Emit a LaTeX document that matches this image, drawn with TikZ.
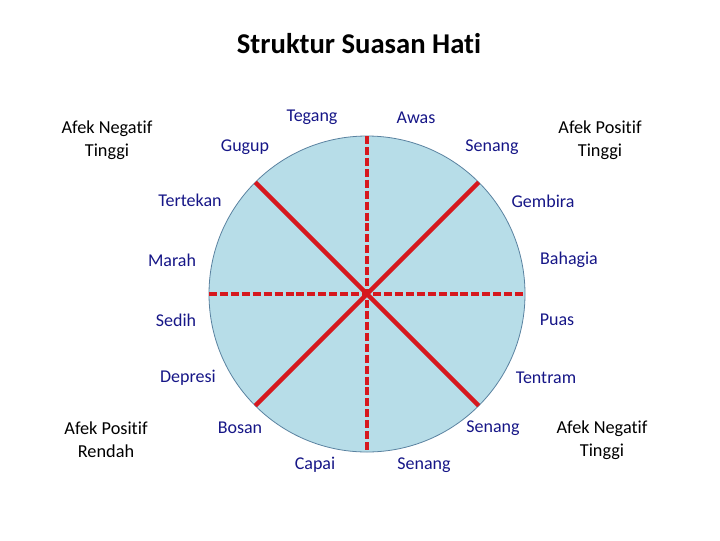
\documentclass[tikz,border=0pt]{standalone}
\usepackage{fontspec}
\setmainfont[Ligatures=NoCommon]{Carlito}
\definecolor{wedgefill}{RGB}{183,221,232}
\definecolor{rimline}{RGB}{90,130,160}
\definecolor{spoke}{RGB}{214,24,30}
\definecolor{moodtext}{RGB}{22,22,135}
\tikzset{every picture/.style={line width=0.75pt}}
\tikzset{
  mood/.style={inner sep=0.75pt,text=moodtext,font=\fontsize{13.5}{16}\selectfont},
  quad/.style={inner sep=0.75pt,align=center,font=\fontsize{13.7}{17}\selectfont},
  axisline/.style={draw=spoke,line width=2.6pt,dash pattern=on 6pt off 2.2pt},
  diagline/.style={draw=spoke,line width=3.2pt}
}
\begin{document}
\begin{tikzpicture}[x=0.75pt,y=0.75pt,yscale=-1,xscale=1]
\useasboundingbox (0,0) rectangle (720,540);

%Shape: Circle
\coordinate (c) at (367,294);
\draw[rimline,fill=wedgefill,line width=0.6pt] (c) circle [radius=158];

%Rim points
\coordinate (n) at (367,136);
\coordinate (s) at (367,452);
\coordinate (w) at (209,294);
\coordinate (e) at (525,294);
\coordinate (nw) at (255.3,182.3);
\coordinate (ne) at (478.7,182.3);
\coordinate (sw) at (255.3,405.7);
\coordinate (se) at (478.7,405.7);

%Straight Lines
\draw[diagline] (c) -- (nw);
\draw[diagline] (c) -- (ne);
\draw[diagline] (c) -- (sw);
\draw[diagline] (c) -- (se);
%Dashed Lines
\draw[axisline] (n) -- (s);
\draw[axisline] (w) -- (e);

% Title
\node[inner sep=0.75pt,font=\fontsize{21.5}{24}\selectfont\bfseries] (title) at (359,44) {Struktur Suasan Hati};

% Text Node
\node[mood] (tegang) at (312,117) {Tegang};
\node[mood] (awas) at (416,118) {Awas};
\node[mood] (gugup) at (245,147) {Gugup};
\node[mood] (senangA) at (492,147) {Senang};
\node[mood] (tertekan) at (190,200) {Tertekan};
\node[mood] (gembira) at (543,201) {Gembira};
\node[mood] (marah) at (172,260) {Marah};
\node[mood] (bahagia) at (569,260) {Bahagia};
\node[mood] (sedih) at (176,320) {Sedih};
\node[mood] (puas) at (557,320) {Puas};
\node[mood] (depresi) at (188,378) {Depresi};
\node[mood] (tentram) at (546,378) {Tentram};
\node[mood] (bosan) at (240,428) {Bosan};
\node[mood] (senangB) at (493,428) {Senang};
\node[mood] (capai) at (315,465) {Capai};
\node[mood] (senangC) at (424,465) {Senang};

% Quadrant Node
\node[quad] (negtinggiA) at (107,140) {Afek Negatif\\Tinggi};
\node[quad] (postinggi) at (600,140) {Afek Positif\\Tinggi};
\node[quad] (posrendah) at (106,440) {Afek Positif\\Rendah};
\node[quad] (negtinggiB) at (602,440) {Afek Negatif\\Tinggi};

\end{tikzpicture}
\end{document}
